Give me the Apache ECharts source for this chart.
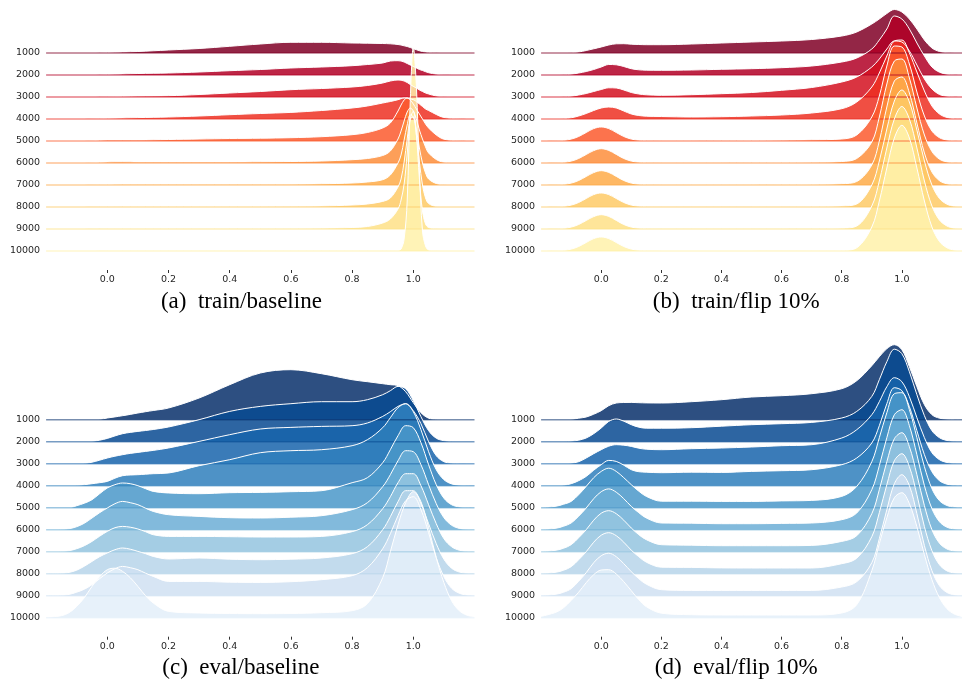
<!DOCTYPE html>
<html><head><meta charset="utf-8">
<script src="https://cdn.jsdelivr.net/npm/echarts@6/dist/echarts.min.js"></script>
<style>html,body{margin:0;padding:0;background:#fff}#chart{width:962px;height:681px}</style>
</head><body><div id="chart"></div>
<script>
// ---------- data ----------
const rowLabels = ['1000','2000','3000','4000','5000','6000','7000','8000','9000','10000'];
const xTickValues = [0, 0.2, 0.4, 0.6, 0.8, 1.0];
const captions = ['(a)  train/baseline', '(b)  train/flip 10%', '(c)  eval/baseline', '(d)  eval/flip 10%'];

// x positions of density samples
const xGridA = [-0.2,-0.1,-0.05,0,0.05,0.1,0.2,0.3,0.4,0.5,0.6,0.7,0.8,0.85,0.9,0.925,0.95,0.96,0.97,0.98,0.99,1.0,1.01,1.02,1.03,1.04,1.05,1.075,1.1,1.15,1.2];
const xGridB = [-0.2,-0.15,-0.125,-0.1,-0.075,-0.05,-0.025, 0,0.025,0.05,0.075,0.1,0.125,0.15, 0.2,0.3,0.4,0.5,0.6,0.7,0.8, 0.85,0.9,0.925,0.95,0.975,1.0,1.025, 1.05,1.075,1.1,1.125,1.15,1.175,1.2];

// ridge heights (density scaled to pixels), rows 1000 -> 10000
const trainBaseline = [
  [0,0,0,0.5,1,1.5,3,4.5,6.7,9,10.7,10.7,10,9.8,9.5,9.2,8.5,8,7.2,6.5,5.5,4.3,3.3,2.3,1.5,1,0.6,0.2,0,0,0],
  [0,0,0,0.5,1,1.5,2,3,4.3,5.5,7,8,9.3,10.5,12,14,14.3,14,13,11.5,10,8.6,7,5.5,4.5,3.3,2.3,0.8,0.2,0,0],
  [0,0,0.1,0.3,0.6,0.9,1.3,2.5,4,5.5,7.3,8.5,10,11.5,14,16,17,16.8,16,14.5,12.5,10.6,9,7,5.5,4,3,1,0.3,0,0],
  [0,0,0.2,0.6,1,1.4,2,3,4.3,5.5,6.6,8.5,11,13,16,17.5,19.3,20.3,21,20.8,20,19.3,17.5,15,12.5,10,8.5,4.5,1.5,0.2,0],
  [0,0,0.3,1,1,1,1.5,2,2.5,2.8,3.3,4.3,6.3,8.5,13,18,30,36,41,43,41,37,32,27,22,17,13,6,1.8,0.2,0],
  [0,0,0.3,1,1.2,1,1,1,1,1.2,1.5,2,3.3,4.5,7.5,12,24,32,42,51,55,52,44,33,24,16,10,3.5,0.8,0,0],
  [0,0,0.2,0.5,0.8,0.8,0.8,0.8,0.8,0.8,0.8,1.2,2,3,5.3,10,22,30,45,60,70,68,55,37,22,12,6,1.5,0.3,0,0],
  [0,0,0.2,0.5,0.6,0.6,0.6,0.6,0.6,0.6,0.7,1,2,3,5.6,9,20,28,45,68,88,90,72,45,22,9,3.5,0.5,0,0,0],
  [0,0,0.2,0.4,0.4,0.4,0.4,0.4,0.4,0.5,0.6,0.8,1.5,2.5,6,10,20,29,45,75,110,118,95,50,18,5,1.5,0.2,0,0,0],
  [0,0,0.1,0.3,0.3,0.3,0.3,0.3,0.3,0.3,0.3,0.3,0.3,0.3,0.3,0.3,0.5,2,12,50,150,204,165,80,20,5,1,0.2,0,0,0]
];
const trainFlip = [
  [0,0,0,0.3,1,2.5,4.2, 6,8,9.2,9.3,8.8,8.5,8.3, 8.3,9,10,11,12,13.5,17, 21,29,34,39.5,43.5,41,34, 24,13,5,1.5,0.4,0.1,0],
  [0,0,0.2,0.8,2,3.5,5.5, 8,10.5,10.2,8.5,6.3,5.2,4.8, 4.7,5,5.7,6.3,7.3,9,13, 17,26,35,46,59,56,46, 32,19,8,2.8,0.8,0.2,0],
  [0,0,0.2,0.8,2,3.5,5.5, 7.5,9.2,9,7,4.5,3,2.2, 1.7,2.3,3.3,4.5,6.7,9.5,15, 20,30,38,48,56,55,46, 32,18,8,2.5,0.8,0.2,0],
  [0,0,0.3,1.2,3,5.5,8.5, 11,12,11,8,5,3.5,2.8, 2.5,2,2.3,3,4,6,10.3, 17,32,46,63,78,79,66, 47,28,13,5,1.5,0.4,0],
  [0,0.15,0.6,1.9,4.5,8.5,12.4, 14,12.4,8.5,4.5,1.9,0.8,0.4, 0.3,0.3,0.4,0.5,0.8,1.2,2, 6,24,45,75,95,94,77, 49,25,10,3.3,1,0.3,0.1],
  [0,0.15,0.6,1.9,4.5,8.5,12.4, 14.3,12.6,8.6,4.5,1.9,0.8,0.4, 0.3,0.3,0.3,0.4,0.5,0.7,1.5, 4.5,21,46,79,102,104,85, 55,28,11.5,3.8,1.1,0.3,0.1],
  [0,0.15,0.6,1.9,4.5,8.5,12.4, 14.3,12.6,8.6,4.5,1.9,0.8,0.4, 0.3,0.3,0.3,0.3,0.4,0.6,1.3, 3.5,20,44,78,104,108,92, 62,32,13,4.3,1.2,0.3,0.1],
  [0,0.15,0.6,1.9,4.5,8.5,12.4, 14,12.4,8.5,4.5,1.9,0.8,0.4, 0.2,0.2,0.2,0.3,0.3,0.5,1, 3,22,46,78,106,117,105, 77,46,22,8.5,2.8,0.7,0.2],
  [0,0.15,0.6,1.9,4.5,8.5,12.4, 14.3,12.6,8.6,4.5,1.9,0.8,0.4, 0.2,0.2,0.2,0.2,0.3,0.4,0.8, 3,23,48,81,110,122.5,110, 81,48,23,9,3,0.7,0.2],
  [0,0.15,0.6,1.9,4.5,8.5,12.4, 14,12.4,8.5,4.5,1.9,0.8,0.4, 0.1,0.1,0.1,0.1,0.2,0.3,0.5, 3.2,24,50,83,113,125.7,113, 83,50,24,9.5,3.2,0.8,0.2]
];
const evalBaseline = [
  [0,0,0,0,0,0,0.3, 1.7,2.8,4,5.3,6.7,8,9.2, 11.7,21.7,35,46.7,50,46,40, 38,36,35,34,28,17,7, 1.5,0.3,0,0,0,0,0],
  [0,0,0,0,0,0.3,1.5, 3.3,5.8,8,9.3,10.3,11.2,12.2, 14.7,22,30.3,35.3,38,40,40, 42,47,51,55.3,53,41,25, 11,3.5,1,0.2,0,0,0],
  [0,0,0,0,0.3,1.5,3.5, 5.7,7.5,9,10.3,11.3,12.3,13.3, 15.7,22.3,29,34.7,36.3,37.3,38, 40.7,47.3,52,57.3,60,53,40, 22,8,2,0.5,0.1,0,0],
  [0,0,0,0.3,1,2,3, 4.3,7.5,10,10.7,11,11.5,12, 12.7,20,26,33,35,36,40, 46,58,68,78,82,74,56, 34,16,6,1.8,0.5,0.1,0],
  [0,0,0,2,4.5,8,14, 19.7,23,24.7,24,22,19,16.3, 14.7,14,15,15.3,16,17,25, 30,45,58,72,82,80,65, 43,23,9.5,3,0.8,0.2,0],
  [0,0.3,1,3,6.5,11.7,17, 21.7,26,28.3,27,25,21.5,18.3, 15,13.3,12,11.7,12.5,14,20, 27,43,55,69,79,78,65, 45,26,12,4.5,1.3,0.3,0],
  [0,0.3,1,3,6,10.3,15.5, 20.3,24,25.3,24.5,22.7,20,17, 15.3,15.3,15,14.7,14.7,15.3,20, 27,43,55,69,78,78,66, 47,28,13,5,1.5,0.4,0],
  [0,0.4,1.3,3.5,7.5,12.3,17, 20.7,24,25.7,24.5,22.3,20,17.3, 14.7,15.7,14.5,14,14.5,15.7,20, 27,44,57,72,83,83,70, 50,30,14.5,5.5,1.7,0.4,0],
  [0,0.4,1.3,3.5,6.5,11,17, 22.7,27,29.3,28,26,22.5,19.3, 14.3,14.3,13.5,13.3,14,16,20, 28,47,62,80,95,99,86, 63,38,19,7.5,2.5,0.7,0.2],
  [0.3,2,5,11.3,20,31.3,41, 48,49.5,46.3,40,31.3,22,14.7, 6.3,4.7,4.2,4,4.2,5,7, 14,40,66,93,115,126,116, 90,60,35,17,7,2.5,1]
];
const evalFlip = [
  [0,0,0,0.3,1.5,2.7,5.5, 9,14,16.7,17.2,17.3,17,16.8, 16.7,18,20,22.7,24,26,31, 39,54,63,71,75,70,53, 33,15,5,1.5,0.5,0.1,0],
  [0,0,0,0.5,1.5,3.7,8, 13.7,20.3,22.7,20.5,17,14.5,13.5, 13.5,14,15.5,17,18,19.3,23.7, 30.3,45.3,62,80,92.5,88,70, 47,26,11,4,1.2,0.3,0],
  [0,0,0,0.5,2,5.7,10, 14,17.5,19,18.5,17.3,15.5,14.5, 14,15,15.7,16.7,18,19,25.7, 34,49,62,77,86,82,67, 46,26,11,4,1.2,0.3,0],
  [0,0,0.5,2,5,9.3,15.5, 21,25.3,24.3,20.5,16,14,13.5, 13,13.5,13.3,14.3,15,16,21, 27.7,42.7,60,82,98,95,79, 55,31,14,5,1.5,0.4,0],
  [0,1.5,3.5,6.3,13,21.3,30, 36.3,39.5,36.3,30,23,16.5,11.3, 6.5,6.5,6.3,6.3,6.8,7.3,11.3, 21.3,46,70,95,114,115,98, 70,41,19,7,2.2,0.6,0.2],
  [0,1.5,3.5,6.7,13.5,21.7,31, 38,40.8,37.5,31,23.3,17,11.7, 6.7,6.5,6,6,6.3,6.7,10, 16.7,40,64,92,115,120,104, 75,44,21,8,2.5,0.7,0.2],
  [0,1.5,3.5,7,14,22,31.5, 38.5,41,38,31.5,23.7,17,12, 7,6.5,6,6,6,6.3,10.3, 16,38,62,90,113,119,105, 77,46,22,8.5,2.7,0.7,0.2],
  [0,1.5,3.5,7,14,22,31.5, 38.5,41,38,31.5,23.5,17,11.5, 6.5,6.3,5.8,5.7,5.7,5.7,10, 15.5,37,61,89,113,120,107, 79,47,23,9,2.8,0.7,0.2],
  [0,1.5,3.5,7,14.5,23,33, 40,42.5,39,32,24,17,11.5, 6,5.3,5.3,5.3,5.3,5.3,8.7, 14,33,57,86,112,121,110, 82,50,25,10,3.2,0.8,0.2],
  [1.3,5.5,10,17.3,25.5,35,43, 47.7,48,43.7,36,27,18,11, 4.5,3,2.7,2.7,2.7,2.7,4.7, 13,47,74,100,120,125,114, 91,63,38,20,9,3.5,1.3]
];

// colormaps (YlOrRd_r / Blues_r sampled per row)
const redColors  = ['#800026','#b20026','#d41020','#ed3022','#fc5b2e','#fd8e3c','#feab49','#feca66','#fee187','#fff1aa'];
const blueColors = ['#08306b','#084a92','#1764ab','#2f7fbc','#4a98c9','#6caed6','#94c4df','#b7d5ea','#d0e1f2','#e3eef9'];

// ---------- build ----------
const ROW = 22;
const panels = [
  {rows: trainBaseline, xs: xGridA, colors: redColors,  left: 46.1,  top: 1,     height: 272, ymax: 250, cap: [241.4, 302]},
  {rows: trainFlip,     xs: xGridB, colors: redColors,  left: 541.1, top: 1,     height: 272, ymax: 250, cap: [736.2, 302]},
  {rows: evalBaseline,  xs: xGridB, colors: blueColors, left: 46.1,  top: 337.7, height: 302, ymax: 280, cap: [240.8, 668]},
  {rows: evalFlip,      xs: xGridB, colors: blueColors, left: 541.1, top: 337.7, height: 302, ymax: 280, cap: [736.2, 668]}
];
const nRows = rowLabels.length;
const labelValues = rowLabels.map((_, k) => (nRows - 1 - k) * ROW);

const grid = [], xAxis = [], yAxis = [], series = [], graphic = [];
panels.forEach((p, pi) => {
  grid.push({left: p.left, top: p.top, width: 428.4, height: p.height, containLabel: false});
  xAxis.push({
    type: 'value', gridIndex: pi, min: -0.2, max: 1.2, position: 'bottom',
    axisLine: {show: false, onZero: false}, splitLine: {show: false},
    axisTick: {show: true, inside: true, length: 3, customValues: xTickValues, lineStyle: {color: '#333', width: 1}},
    axisLabel: {show: true, customValues: xTickValues, margin: 2, fontFamily: 'DejaVu Sans', fontSize: 9.5, color: '#262626',
      formatter: v => Number(v).toFixed(1)}
  });
  yAxis.push({
    type: 'value', gridIndex: pi, min: -ROW, max: p.ymax,
    axisLine: {show: false, onZero: false}, splitLine: {show: false}, axisTick: {show: false},
    axisLabel: {show: true, customValues: labelValues, margin: 6, fontFamily: 'DejaVu Sans', fontSize: 9.5, color: '#262626',
      formatter: v => { const k = nRows - 1 - Math.round(v / ROW); return rowLabels[k] || ''; }}
  });
  p.rows.forEach((vals, k) => {
    const off = (nRows - 1 - k) * ROW;
    const col = p.colors[k];
    series.push({
      type: 'line', xAxisIndex: pi, yAxisIndex: pi, smooth: 0.35, symbol: 'none', clip: false, silent: true,
      data: p.xs.map((x, i) => [x, off + vals[i]]),
      lineStyle: {color: '#ffffff', width: 1},
      areaStyle: {color: col, opacity: 0.85, origin: off}
    });
    series.push({
      type: 'line', xAxisIndex: pi, yAxisIndex: pi, symbol: 'none', silent: true, clip: false,
      data: [[-0.2, off], [1.2, off]],
      lineStyle: {color: col, width: 1.5, opacity: 0.55}
    });
  });
  graphic.push({type: 'text', x: p.cap[0], y: p.cap[1],
    style: {text: captions[pi], font: '23px "Liberation Serif"', fill: '#000', textAlign: 'center', textVerticalAlign: 'middle'}});
});

const chart = echarts.init(document.getElementById('chart'), null, {renderer: 'canvas'});
chart.setOption({animation: false, backgroundColor: '#ffffff', grid, xAxis, yAxis, series, graphic});
</script>
</body></html>
